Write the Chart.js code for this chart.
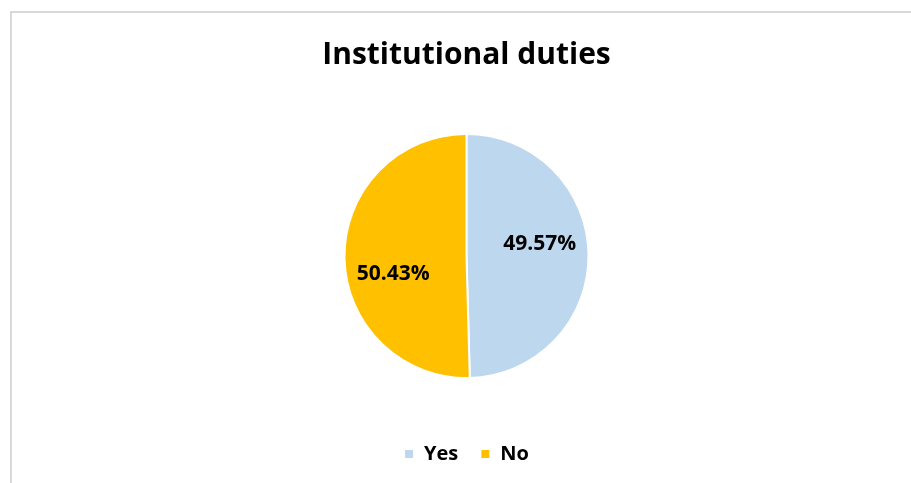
<!DOCTYPE html>
<html>
<head>
<meta charset="utf-8">
<script src="https://cdn.jsdelivr.net/npm/chart.js@4.4.1/dist/chart.umd.min.js"></script>
<style>
  html, body { margin: 0; padding: 0; background: #fff; overflow: hidden; }
  #frame {
    position: absolute; left: 10px; top: 11px;
    width: 909px; height: 475px;
    border: 2px solid #d9d9d9;
  }
  #duties { display: block; }
</style>
</head>
<body>
<div id="frame"><canvas id="duties" width="909" height="461"></canvas></div>
<script>
  const labels = ['Yes', 'No'];
  const shares = [49.57, 50.43];
  const colors = ['#BDD7EE', '#FFC000'];

  // draws the percentage inside each slice
  const sliceLabels = {
    id: 'sliceLabels',
    afterDatasetsDraw(chart, args, opts) {
      const ctx = chart.ctx;
      const meta = chart.getDatasetMeta(0);
      ctx.save();
      ctx.font = 'bold 21px "Open Sans"';
      ctx.fillStyle = '#000';
      ctx.textAlign = 'center';
      ctx.textBaseline = 'middle';
      meta.data.forEach((arc, i) => {
        const p = arc.getProps(['x', 'y', 'startAngle', 'endAngle', 'outerRadius']);
        const mid = (p.startAngle + p.endAngle) / 2;
        const r = p.outerRadius * opts.dist;
        const x = p.x + Math.cos(mid) * r;
        const y = p.y + Math.sin(mid) * r + opts.dy[i];
        ctx.fillText(shares[i].toFixed(2) + '%', x, y);
      });
      ctx.restore();
    }
  };

  const ctx = document.getElementById('duties');

  new Chart(ctx, {
    type: 'pie',
    data: {
      labels: labels,
      datasets: [{
        data: shares,
        backgroundColor: colors,
        borderColor: '#fff',
        borderWidth: 2,
        radius: 122
      }]
    },
    plugins: [sliceLabels],
    options: {
      responsive: false,
      animation: false,
      layout: { padding: 0 },
      plugins: {
        title: {
          display: true,
          text: 'Institutional duties',
          color: '#000',
          font: { family: 'Open Sans', size: 30, weight: 'bold', lineHeight: 1.2 },
          padding: { top: 24, bottom: 17 }
        },
        legend: {
          position: 'bottom',
          labels: {
            color: '#000',
            boxWidth: 10,
            boxHeight: 10,
            padding: 22,
            font: { family: 'Open Sans', size: 20, weight: 'bold' }
          }
        },
        tooltip: { enabled: false },
        sliceLabels: { dist: 0.6, dy: [-11, 17] }
      }
    }
  });
</script>
</body>
</html>
